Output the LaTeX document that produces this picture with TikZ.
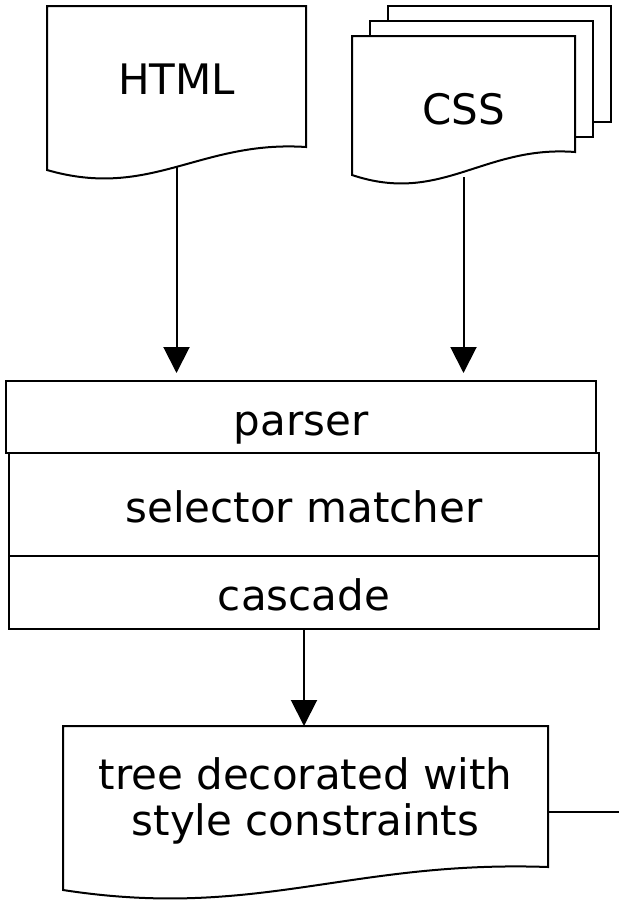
\documentclass[tikz,border=0pt]{standalone}
\usepackage{fontspec}
\setmainfont{DejaVu Sans}
\usetikzlibrary{arrows.meta, calc, backgrounds}

% document outline with a wavy bottom; #1 lifts the right-hand corner
\newcommand{\docoutline}[2][0]{%
  \draw[page] (#2.north west) -- (#2.north east) -- ($(#2.south east)+(0,-#1)$)
    .. controls ($(#2.south east)!0.41!(#2.south west)+(0,-#1-7)$)
    and ($(#2.south west)!0.4!(#2.south east)+(0,-#1+53)$)
    .. ($(#2.south west)+(0,-#1+23)$) -- cycle;}

\begin{document}
\begin{tikzpicture}[
    x=0.5pt, y=-0.5pt,
    doc/.style={rectangle, inner sep=0pt, outer sep=0pt, minimum height=70.5pt, align=center, font=\fontsize{21}{23}\selectfont},
    stage/.style={rectangle, draw, line width=1pt, inner sep=0pt, outer sep=0pt, minimum width=295pt, align=center, font=\fontsize{21}{23}\selectfont, text height=23pt, text depth=5pt},
    page/.style={draw, line width=1pt, fill=white},
    line/.style={line width=1pt},
    arrow/.style={line width=1pt, -{Triangle[length=13pt, width=13pt]}}
]
\useasboundingbox (0,0) rectangle (619,900);

% Inputs
\node[doc, minimum width=129.5pt, text height=23pt, text depth=5pt] (html) at (176.5,76.5) {HTML};
\node[doc, minimum width=111.5pt, text height=23pt, text depth=5pt] (css) at (463.5,106.5) {CSS};

% Engine
\node[stage, minimum height=36pt] (parser) at (301,417) {parser};
\node[stage, minimum height=51.5pt] (selector) at (304,504.5) {selector matcher};
\node[stage, minimum height=36.5pt] (cascade) at (304,592.5) {cascade};

% Output
\node[doc, minimum width=242.5pt, text height=43.5pt, text depth=5pt] (tree) at (305.5,796.5) {tree decorated with\\style constraints};
\coordinate (exit) at (619,812);

\begin{scope}[on background layer]
\draw[arrow, shorten >=4pt] (html) -- (html |- parser.north);
\draw[arrow, shorten >=4pt] (css) -- (css |- parser.north);
\docoutline{html}
\draw[page] ($(css.north west)+(36,-30)$) rectangle ($(css.south east)+(36,-55)$);
\draw[page] ($(css.north west)+(18,-15)$) rectangle ($(css.south east)+(18,-40)$);
\docoutline[25]{css}
\docoutline{tree}
\end{scope}

% Connections
\draw[arrow] (cascade.south) -- (cascade.south |- tree.north);
\draw[line] (tree.east |- exit) -- (exit);
\end{tikzpicture}
\end{document}
